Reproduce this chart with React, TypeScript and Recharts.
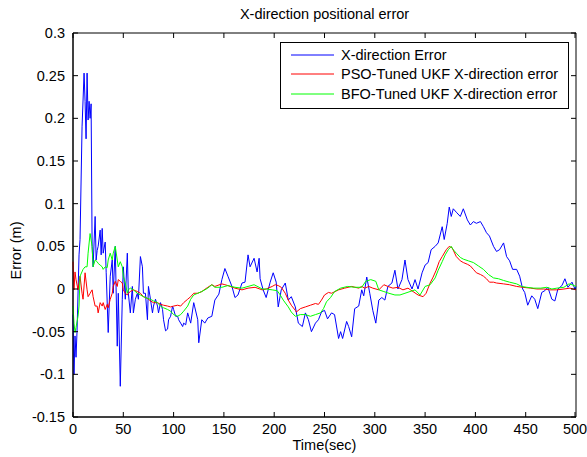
import { LineChart, Line, XAxis, YAxis, Legend, ReferenceArea } from "recharts";

// time (sec) / error (m) pairs
const xDirectionError: [number, number][] = [
  [0, -0.03], [1, -0.1], [2, -0.055], [3, -0.08], [4, -0.05], [6, 0.04], [7, 0.058], [9, 0.19],
  [11, 0.253], [12, 0.22], [13, 0.176], [14, 0.253], [15, 0.198], [16, 0.22], [17, 0.2], [18, 0.217],
  [19, 0.05], [20, 0.026], [22, 0.085], [23, 0.034], [24, 0.045], [25, 0.05], [27, 0.069], [28, 0.04],
  [29, 0.071], [30, 0.042], [32, 0.055], [33, 0.019], [35, -0.051], [37, 0.015], [39, 0.034], [40, -0.005],
  [42, 0.05], [44, -0.067], [45, -0.005], [47, -0.114], [49, -0.012], [50, 0.026], [52, -0.012], [54, 0.042],
  [55, -0.005], [57, -0.028], [59, 0.003], [60, -0.028], [62, -0.012], [64, -0.005], [65, -0.012], [67, 0.038],
  [69, 0.026], [70, -0.005], [72, -0.005], [74, -0.036], [75, 0.003], [77, -0.012], [79, -0.028], [80, -0.02],
  [82, -0.012], [84, -0.02], [85, -0.028], [87, -0.016], [89, -0.024], [90, -0.036], [92, -0.049], [94, -0.047],
  [95, -0.036], [97, -0.032], [99, -0.02], [100, -0.024], [102, -0.032], [104, -0.032], [105, -0.036], [107, -0.04],
  [109, -0.044], [110, -0.04], [112, -0.042], [114, -0.028], [115, -0.032], [117, -0.04], [120, -0.016], [121, -0.021],
  [124, -0.036], [125, -0.063], [128, -0.036], [131, -0.04], [134, -0.034], [138, -0.032], [141, -0.013], [145, -0.006],
  [148, 0.011], [151, 0.024], [154, 0.015], [158, 0.003], [161, -0.01], [164, -0.007], [168, 0.007], [171, 0.008],
  [174, 0.04], [176, 0.026], [180, 0.036], [183, 0.02], [185, 0.036], [186, 0.012], [189, -0.001], [192, -0.01],
  [196, 0.008], [199, 0.019], [202, 0.008], [204, -0.021], [207, -0.001], [211, 0.007], [214, -0.013], [217, -0.009],
  [221, -0.021], [224, -0.04], [228, -0.044], [231, -0.028], [234, -0.036], [237, -0.05], [241, -0.04], [244, -0.036],
  [247, -0.027], [250, -0.025], [253, -0.035], [257, -0.028], [260, -0.03], [264, -0.058], [266, -0.05], [268, -0.058],
  [272, -0.038], [274, -0.044], [277, -0.056], [280, -0.023], [284, -0.02], [287, -0.001], [289, -0.008], [292, 0.014],
  [295, -0.005], [298, -0.025], [301, -0.04], [304, -0.013], [307, -0.01], [310, -0.013], [313, 0.003], [317, 0.007],
  [320, 0.022], [323, 0], [327, 0.011], [330, 0.034], [333, 0.011], [337, 0], [340, 0.011], [343, 0],
  [347, 0.019], [350, 0.028], [353, 0.031], [356, 0.046], [360, 0.05], [363, 0.054], [367, 0.073], [369, 0.058],
  [372, 0.077], [374, 0.096], [376, 0.085], [378, 0.094], [381, 0.09], [385, 0.085], [388, 0.094], [392, 0.081],
  [395, 0.075], [398, 0.079], [401, 0.077], [405, 0.079], [408, 0.073], [411, 0.066], [414, 0.062], [418, 0.05],
  [421, 0.044], [424, 0.046], [428, 0.054], [431, 0.038], [434, 0.033], [437, 0.023], [441, 0.023], [444, 0.015],
  [447, 0], [449, -0.004], [452, -0.019], [456, -0.008], [459, -0.012], [462, -0.023], [466, -0.004], [469, -0.002],
  [472, 0.002], [476, -0.012], [479, -0.014], [482, 0], [486, 0.004], [489, 0.012], [492, 0.002], [496, 0.008],
  [499, 0], [500, 0.003],
];

const psoTunedError: [number, number][] = [
  [0, 0.032], [1, -0.001], [2, 0.02], [3, 0.011], [5, -0.001], [7, 0.015], [9, -0.005], [10, -0.012],
  [12, 0.019], [14, -0.001], [15, -0.009], [17, -0.005], [19, -0.001], [20, -0.009], [22, -0.02], [24, -0.02],
  [25, -0.028], [27, -0.016], [29, -0.02], [30, -0.016], [32, -0.024], [34, -0.018], [35, -0.022], [37, -0.012],
  [39, -0.005], [40, 0.003], [42, 0.009], [44, 0.003], [45, 0.011], [47, 0.009], [49, 0.007], [50, -0.001],
  [52, -0.005], [54, -0.007], [55, -0.005], [57, -0.003], [60, -0.001], [64, -0.003], [67, -0.005], [70, -0.009],
  [74, -0.011], [77, -0.014], [80, -0.016], [84, -0.016], [87, -0.018], [90, -0.019], [94, -0.02], [97, -0.021],
  [100, -0.02], [104, -0.019], [107, -0.02], [110, -0.016], [114, -0.012], [117, -0.009], [120, -0.005], [124, -0.005],
  [128, -0.003], [134, 0.002], [138, 0.005], [141, 0.003], [148, 0.006], [151, 0.005], [154, 0.004], [161, 0.001],
  [168, -0.001], [174, 0.001], [181, 0.002], [188, -0.001], [192, 0], [198, 0.003], [201, 0.005], [204, 0.004],
  [207, 0.002], [211, -0.005], [214, -0.013], [217, -0.019], [221, -0.025], [222, -0.027], [226, -0.023], [231, -0.021],
  [236, -0.019], [241, -0.017], [244, -0.018], [247, -0.013], [250, -0.007], [254, -0.004], [257, -0.005], [264, -0.001],
  [270, 0.001], [277, 0.003], [284, 0.001], [287, 0.003], [290, 0.001], [294, 0.003], [298, 0.001], [304, -0.001],
  [309, 0.005], [313, 0.003], [318, 0.001], [323, 0.002], [328, -0.001], [333, 0.001], [338, -0.003], [343, -0.007],
  [348, -0.009], [351, -0.005], [355, 0.007], [358, 0.014], [361, 0.022], [364, 0.032], [367, 0.038], [371, 0.046],
  [374, 0.05], [377, 0.048], [381, 0.038], [385, 0.033], [388, 0.031], [392, 0.029], [395, 0.027], [398, 0.023],
  [401, 0.019], [405, 0.017], [408, 0.015], [411, 0.012], [414, 0.008], [418, 0.008], [421, 0.007], [428, 0.006],
  [434, 0.005], [441, 0.003], [447, 0.002], [455, 0.001], [461, 0], [468, 0], [474, -0.001], [481, -0.001],
  [488, 0], [494, 0.001], [500, -0.001],
];

const bfoTunedError: [number, number][] = [
  [0, -0.02], [1, -0.04], [2, -0.051], [3, -0.045], [5, -0.032], [6, -0.02], [7, 0.015], [10, 0.023],
  [12, 0.026], [14, 0.026], [15, 0.042], [17, 0.065], [19, 0.05], [20, 0.026], [22, 0.034], [24, 0.032],
  [25, 0.03], [27, 0.028], [29, 0.026], [30, 0.023], [32, 0.026], [34, 0.025], [35, 0.034], [37, 0.042],
  [39, 0.034], [40, 0.042], [42, 0.05], [44, 0.034], [45, 0.026], [47, 0.032], [49, 0.026], [50, 0.015],
  [52, 0.007], [54, -0.005], [55, -0.001], [57, 0.001], [60, -0.001], [64, -0.005], [67, -0.007], [70, -0.009],
  [74, -0.011], [77, -0.012], [80, -0.014], [84, -0.016], [87, -0.02], [90, -0.022], [94, -0.024], [97, -0.026],
  [100, -0.03], [104, -0.032], [107, -0.03], [110, -0.026], [114, -0.02], [117, -0.012], [120, -0.007], [124, -0.005],
  [128, -0.003], [134, 0.001], [138, 0.005], [141, 0.002], [148, 0.002], [154, 0.004], [161, 0.002], [168, 0.001],
  [174, 0.003], [180, 0.005], [185, 0.002], [188, 0], [192, 0], [198, -0.001], [203, -0.002], [206, -0.007],
  [209, -0.013], [214, -0.021], [217, -0.027], [221, -0.032], [226, -0.03], [231, -0.03], [236, -0.032], [241, -0.03],
  [246, -0.028], [249, -0.023], [252, -0.015], [256, -0.01], [260, -0.003], [266, 0.001], [273, 0.003], [280, 0.002],
  [287, 0.002], [291, 0.009], [296, 0.011], [301, 0.009], [304, -0.001], [309, -0.003], [314, -0.005], [320, -0.007],
  [325, -0.007], [330, -0.005], [335, -0.003], [340, -0.001], [345, -0.007], [350, 0.003], [355, 0.005], [360, 0.013],
  [363, 0.022], [367, 0.032], [370, 0.04], [373, 0.046], [376, 0.05], [378, 0.046], [381, 0.042], [385, 0.037],
  [388, 0.035], [393, 0.033], [398, 0.031], [403, 0.027], [408, 0.023], [413, 0.017], [418, 0.013], [423, 0.012],
  [428, 0.01], [434, 0.008], [441, 0.006], [446, 0.003], [451, 0.002], [458, 0.001], [465, 0.001], [471, 0.002],
  [476, 0], [481, 0.001], [488, 0.002], [493, 0.006], [496, 0.005], [500, 0.003],
];

const xTicks = [0, 50, 100, 150, 200, 250, 300, 350, 400, 450, 500];
const yTicks = [-0.15, -0.1, -0.05, 0, 0.05, 0.1, 0.15, 0.2, 0.25, 0.3];

const series = [
  { name: "X-direction Error", color: "#0000ff", points: xDirectionError },
  { name: "PSO-Tuned UKF X-direction error", color: "#ff0000", points: psoTunedError },
  { name: "BFO-Tuned UKF X-direction error", color: "#00ff00", points: bfoTunedError },
];

const FONT = '"Liberation Sans", Arial, Helvetica, sans-serif';
const W = 587;
const H = 457;
const PLOT_W = 503;
const PLOT_H = 384;
const TICK = 5;

// matlab style: ticks point inward, mirrored on the opposite side of the box
const XTick = (props: any) => {
  const { x, y, payload } = props;
  return (
    <g>
      <line x1={x} x2={x} y1={y} y2={y - TICK} stroke="#000" />
      <line x1={x} x2={x} y1={y - PLOT_H} y2={y - PLOT_H + TICK} stroke="#000" />
      <text x={x} y={y + 17} textAnchor="middle" fontSize={14.5} fontFamily={FONT} fill="#000">
        {payload.value}
      </text>
    </g>
  );
};

const YTick = (props: any) => {
  const { x, y, payload } = props;
  return (
    <g>
      <line x1={x} x2={x + TICK} y1={y} y2={y} stroke="#000" />
      <line x1={x + PLOT_W} x2={x + PLOT_W - TICK} y1={y} y2={y} stroke="#000" />
      <text x={x - 8} y={y + 5} textAnchor="end" fontSize={14.5} fontFamily={FONT} fill="#000">
        {payload.value}
      </text>
    </g>
  );
};

const LegendBox = () => (
  <div
    style={{
      width: 289,
      height: 67,
      boxSizing: "border-box",
      border: "1px solid #000",
      background: "#fff",
      paddingTop: 2,
      fontFamily: FONT,
      fontSize: 14.5,
    }}
  >
    {series.map(s => (
      <div key={s.name} style={{ display: "flex", alignItems: "center", height: 19.5 }}>
        <svg width={53} height={4} style={{ flex: "none" }}>
          <line x1={10} x2={53} y1={2} y2={2} stroke={s.color} strokeWidth={1} />
        </svg>
        <span style={{ marginLeft: 7, whiteSpace: "nowrap" }}>{s.name}</span>
      </div>
    ))}
  </div>
);

export default function App() {
  return (
    <div style={{ position: "absolute", left: 0, top: 0, width: W, height: H, background: "#fff", fontFamily: FONT }}>
      <div style={{ position: "absolute", left: 73, width: PLOT_W, top: 6, textAlign: "center", fontSize: 14.5, lineHeight: "17px" }}>
        X-direction positional error
      </div>
      <LineChart width={W} height={H} margin={{ top: 33, right: 11, bottom: 10, left: 33 }}>
        <XAxis
          dataKey="t"
          type="number"
          domain={[0, 500]}
          ticks={xTicks}
          height={30}
          tickSize={0}
          tickMargin={0}
          tickLine={false}
          tick={<XTick />}
          axisLine={{ stroke: "#000" }}
          allowDuplicatedCategory={false}
        />
        <YAxis
          dataKey="v"
          type="number"
          domain={[-0.15, 0.3]}
          ticks={yTicks}
          width={40}
          tickSize={0}
          tickMargin={0}
          tickLine={false}
          tick={<YTick />}
          axisLine={{ stroke: "#000" }}
          interval={0}
        />
        {series.map(s => (
          <Line
            key={s.name}
            name={s.name}
            data={s.points.map(([t, v]) => ({ t, v }))}
            dataKey="v"
            type="linear"
            stroke={s.color}
            strokeWidth={1}
            dot={false}
            activeDot={false}
            isAnimationActive={false}
          />
        ))}
        <ReferenceArea x1={0} x2={500} y1={-0.15} y2={0.3} fill="none" stroke="#000" strokeOpacity={1} fillOpacity={0} />
        <Legend
          layout="vertical"
          align="center"
          verticalAlign="middle"
          content={<LegendBox />}
          wrapperStyle={{ left: 280, top: 42, width: 289, height: 67 }}
        />
      </LineChart>
      <div style={{ position: "absolute", left: 73, width: PLOT_W, top: 437, textAlign: "center", fontSize: 14.5, lineHeight: "17px" }}>
        Time(sec)
      </div>
      <div
        style={{
          position: "absolute",
          left: 16 - 50,
          top: 250 - 8.5,
          width: 100,
          height: 17,
          lineHeight: "17px",
          textAlign: "center",
          fontSize: 14.5,
          transform: "rotate(-90deg)",
        }}
      >
        Error (m)
      </div>
    </div>
  );
}
